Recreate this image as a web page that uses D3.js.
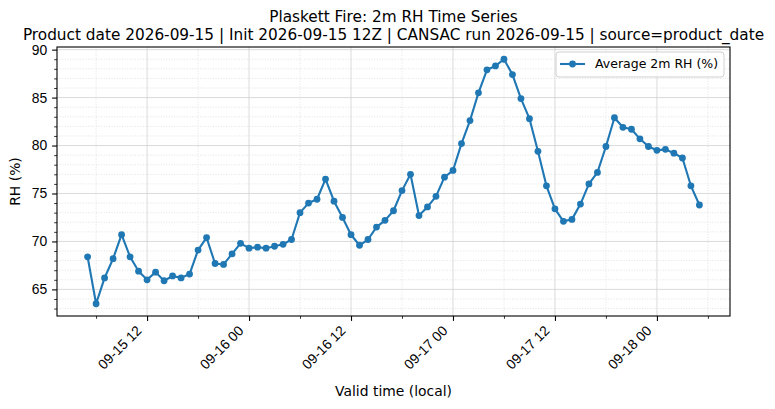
<!DOCTYPE html>
<html>
<head>
<meta charset="utf-8">
<script src="https://cdn.jsdelivr.net/npm/d3@7"></script>
<style>
  body { margin: 0; background: white; }
  svg { display: block; font-family: "DejaVu Sans", sans-serif; }
</style>
</head>
<body>
<svg></svg>
<script>
// hourly valid times, 09-15 05:00 -> 09-18 05:00 (local)
let startTime = new Date(2026, 8, 15, 5);
let rhValues = [
  68.4, 63.5, 66.2, 68.2, 70.7, 68.4, 66.9, 66.0, 66.8, 65.9,
  66.4, 66.2, 66.6, 69.1, 70.4, 67.7, 67.6, 68.7, 69.8, 69.3,
  69.4, 69.3, 69.5, 69.7, 70.2, 73.0, 74.0, 74.4, 76.5, 74.2,
  72.5, 70.7, 69.6, 70.2, 71.5, 72.2, 73.2, 75.3, 77.0, 72.7,
  73.6, 74.7, 76.7, 77.4, 80.2, 82.6, 85.5, 87.9, 88.3, 89.0,
  87.4, 84.9, 82.8, 79.4, 75.8, 73.4, 72.1, 72.3, 73.9, 76.0,
  77.2, 79.9, 82.9, 81.9, 81.7, 80.7, 79.9, 79.5, 79.6, 79.2,
  78.7, 75.8, 73.8
];
let yTicks = [65, 70, 75, 80, 85, 90];
let titleLines = [
  "Plaskett Fire: 2m RH Time Series",
  "Product date 2026-09-15 | Init 2026-09-15 12Z | CANSAC run 2026-09-15 | source=product_date"
];
let seriesName = "Average 2m RH (%)";

let values = rhValues.map((v, i) => ({ time: d3.timeHour.offset(startTime, i), rh: v }));

let width = 775;
let height = 409;
let margin = { left: 57, right: 45, top: 47, bottom: 93 };
let color = "#1f77b4";

let svg = d3.select('svg')
    .attr("width", width)
    .attr("height", height);

// matplotlib-like 5% margins
let tExt = d3.extent(values, d => d.time);
let tPad = (tExt[1] - tExt[0]) * 0.05;
let xScale = d3.scaleTime()
    .domain([new Date(+tExt[0] - tPad), new Date(+tExt[1] + tPad)])
    .range([margin.left, width - margin.right]);

let yExt = d3.extent(values, d => d.rh);
let yPad = (yExt[1] - yExt[0]) * 0.05;
let yScale = d3.scaleLinear()
    .domain([yExt[0] - yPad, yExt[1] + yPad])
    .range([height - margin.bottom, margin.top]);

let x0 = margin.left, x1 = width - margin.right;
let y0 = height - margin.bottom, y1 = margin.top;

let majorX = d3.timeHour.every(12).range(...xScale.domain());
let minorX = d3.timeHour.every(6).range(...xScale.domain()).filter(d => d.getHours() % 12 !== 0);
let minorY = d3.range(Math.ceil(yScale.domain()[0]), yScale.domain()[1]).filter(v => v % 5 !== 0);

// grid
let grid = svg.append('g');
grid.selectAll('.minor-x').data(minorX).enter().append('line')
    .attr('x1', d => xScale(d)).attr('x2', d => xScale(d))
    .attr('y1', y0).attr('y2', y1)
    .attr('stroke', '#dcdcdc').attr('stroke-width', 0.8).attr('stroke-dasharray', '1,1.6');
grid.selectAll('.minor-y').data(minorY).enter().append('line')
    .attr('x1', x0).attr('x2', x1)
    .attr('y1', d => yScale(d)).attr('y2', d => yScale(d))
    .attr('stroke', '#dcdcdc').attr('stroke-width', 0.8).attr('stroke-dasharray', '1,1.6');
grid.selectAll('.major-x').data(majorX).enter().append('line')
    .attr('x1', d => xScale(d)).attr('x2', d => xScale(d))
    .attr('y1', y0).attr('y2', y1)
    .attr('stroke', '#d2d2d2').attr('stroke-width', 0.8);
grid.selectAll('.major-y').data(yTicks).enter().append('line')
    .attr('x1', x0).attr('x2', x1)
    .attr('y1', d => yScale(d)).attr('y2', d => yScale(d))
    .attr('stroke', '#d2d2d2').attr('stroke-width', 0.8);

// axes
let xAxis = d3.axisBottom(xScale)
    .tickValues(majorX)
    .tickSize(4.9)
    .tickPadding(5)
    .tickFormat(d3.timeFormat('%m-%d %H'));
let gx = svg.append('g')
    .attr('transform', 'translate(0,' + y0 + ')')
    .call(xAxis);
gx.select('.domain').remove();
gx.selectAll('line').attr('stroke-width', 1.1);
gx.selectAll('text')
    .attr('font-size', '13.9px')
    .attr('fill', 'black')
    .attr('text-anchor', 'end')
    .attr('dy', null)
    .attr('y', null)
    .attr('transform', 'translate(-5,15.5) rotate(-45)');

let xMinorAxis = d3.axisBottom(xScale).tickValues(minorX).tickSize(2.8).tickFormat('');
let gxm = svg.append('g').attr('transform', 'translate(0,' + y0 + ')').call(xMinorAxis);
gxm.select('.domain').remove();
gxm.selectAll('line').attr('stroke-width', 0.8);

let yAxis = d3.axisLeft(yScale)
    .tickValues(yTicks)
    .tickSize(4.9)
    .tickPadding(5);
let gy = svg.append('g')
    .attr('transform', 'translate(' + x0 + ',0)')
    .call(yAxis);
gy.select('.domain').remove();
gy.selectAll('line').attr('stroke-width', 1.1);
gy.selectAll('text').attr('font-size', '13.9px').attr('fill', 'black');

let yMinorAxis = d3.axisLeft(yScale).tickValues(minorY).tickSize(2.8).tickFormat('');
let gym = svg.append('g').attr('transform', 'translate(' + x0 + ',0)').call(yMinorAxis);
gym.select('.domain').remove();
gym.selectAll('line').attr('stroke-width', 0.8);

// series
let line = d3.line().x(d => xScale(d.time)).y(d => yScale(d.rh));
svg.append('path')
    .datum(values)
    .attr('d', line)
    .attr('fill', 'none')
    .attr('stroke', color)
    .attr('stroke-width', 2.1)
    .attr('stroke-linejoin', 'round');
svg.selectAll('.dot')
    .data(values)
    .enter()
    .append('circle')
    .attr('class', 'dot')
    .attr('r', 3.4)
    .attr('cx', d => xScale(d.time))
    .attr('cy', d => yScale(d.rh))
    .attr('fill', color);

// frame
svg.append('rect')
    .attr('x', x0).attr('y', y1)
    .attr('width', x1 - x0).attr('height', y0 - y1)
    .attr('fill', 'none').attr('stroke', 'black').attr('stroke-width', 1.1);

// titles and labels
let cx = (x0 + x1) / 2;
svg.append('text').attr('x', cx).attr('y', 22).attr('text-anchor', 'middle')
    .attr('font-size', '15.3px').text(titleLines[0]);
svg.append('text').attr('x', cx).attr('y', 39.5).attr('text-anchor', 'middle')
    .attr('font-size', '15.3px').text(titleLines[1]);
svg.append('text').attr('x', cx).attr('y', 396).attr('text-anchor', 'middle')
    .attr('font-size', '13.9px').text('Valid time (local)');
svg.append('text')
    .attr('transform', 'translate(20,' + ((y0 + y1) / 2) + ') rotate(-90)')
    .attr('text-anchor', 'middle')
    .attr('font-size', '13.9px').text('RH (%)');

// legend
let legend = svg.append('g').attr('transform', 'translate(556,52)');
legend.append('rect')
    .attr('width', 168).attr('height', 25).attr('rx', 3)
    .attr('fill', 'white').attr('fill-opacity', 0.8)
    .attr('stroke', '#d0d0d0').attr('stroke-width', 1);
legend.append('line')
    .attr('x1', 4).attr('x2', 29).attr('y1', 12).attr('y2', 12)
    .attr('stroke', color).attr('stroke-width', 2.1);
legend.append('circle').attr('cx', 16.5).attr('cy', 12).attr('r', 3.4).attr('fill', color);
legend.append('text').attr('x', 39).attr('y', 16.4)
    .attr('font-size', '12.5px').text(seriesName);
</script>
</body>
</html>
